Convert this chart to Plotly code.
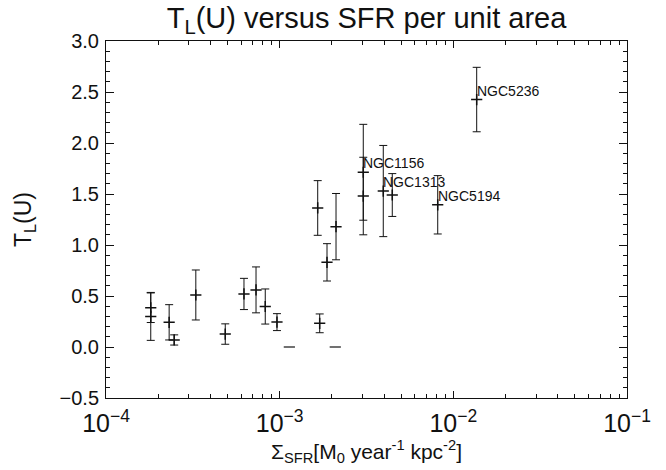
import math
import plotly.graph_objects as go

# Star-formation rate surface density [M0 / yr / kpc^2]
sfr = [1.81e-4, 1.81e-4, 2.31e-4, 2.47e-4, 3.29e-4, 4.86e-4, 6.23e-4,
       7.31e-4, 8.26e-4, 9.65e-4, 1.656e-3, 1.70e-3, 1.873e-3, 2.111e-3,
       3.03e-3, 3.03e-3, 3.95e-3, 4.45e-3, 8.13e-3, 1.363e-2]
# T_L(U) and its 1-sigma uncertainty
tl = [0.385, 0.30, 0.242, 0.069, 0.51, 0.127, 0.52,
      0.56, 0.397, 0.244, 1.363, 0.232, 0.83, 1.18,
      1.713, 1.48, 1.529, 1.49, 1.394, 2.426]
tl_err = [0.145, 0.235, 0.173, 0.05, 0.245, 0.10, 0.153,
          0.225, 0.172, 0.083, 0.268, 0.092, 0.183, 0.325,
          0.47, 0.38, 0.447, 0.21, 0.286, 0.316]

# Galaxies with no detected signal (T_L = 0)
sfr_zero = [1.137e-3, 2.09e-3]
tl_zero = [0.0, 0.0]

# Named galaxies
names = ["NGC1156", "NGC1313", "NGC5194", "NGC5236"]
name_sfr = [3.03e-3, 3.95e-3, 8.13e-3, 1.363e-2]
name_tl = [1.713, 1.529, 1.394, 2.426]

FONT = "Liberation Sans"
INK = "#111111"

fig = go.Figure()

fig.add_trace(go.Scatter(
    x=sfr, y=tl, mode="markers",
    marker=dict(symbol="cross-thin", size=8,
                line=dict(width=1.5, color=INK), color=INK),
    error_y=dict(type="data", array=tl_err, visible=True,
                 color=INK, thickness=1, width=4),
    showlegend=False,
))

fig.add_trace(go.Scatter(
    x=sfr_zero, y=tl_zero, mode="markers",
    marker=dict(symbol="line-ew", size=8,
                line=dict(width=1.2, color=INK), color=INK),
    showlegend=False,
))

for n, xs, ys in zip(names, name_sfr, name_tl):
    fig.add_annotation(
        x=math.log10(xs), y=ys, text=n, showarrow=False,
        xanchor="left", yanchor="middle", xshift=-2, yshift=9,
        font=dict(family=FONT, size=14, color=INK),
    )

fig.update_layout(
    width=666, height=470,
    margin=dict(l=106, r=39, t=41, b=72),
    paper_bgcolor="white", plot_bgcolor="white",
    font=dict(family=FONT, color=INK),
    title=dict(text="T<sub>L</sub>(U) versus SFR per unit area",
               x=0.5, xref="paper", y=1 - 18 / 470, yref="container",
               xanchor="center", yanchor="middle", automargin=False,
               font=dict(family=FONT, size=29, color=INK)),
)

fig.update_xaxes(
    type="log", range=[-4, -1], dtick=1, exponentformat="power",
    showexponent="all", ticks="inside", ticklen=7, tickwidth=1,
    tickcolor=INK, mirror="allticks", showline=True, linecolor=INK,
    linewidth=1, showgrid=False, zeroline=False, automargin=False,
    minor=dict(ticks="inside", ticklen=4, dtick="D1", tickcolor=INK,
               showgrid=False),
    ticklabelstandoff=4,
    tickfont=dict(family=FONT, size=20, color=INK),
    title=dict(text="Σ<sub>SFR</sub>[M<sub>0</sub> year<sup>-1</sup> kpc<sup>-2</sup>]",
               font=dict(family=FONT, size=21, color=INK), standoff=0),
)

fig.update_yaxes(
    range=[-0.5, 3.0], dtick=0.5, tickformat=".1f", ticks="inside",
    ticklen=8, tickwidth=1, tickcolor=INK, mirror="allticks",
    showline=True, linecolor=INK, linewidth=1, showgrid=False,
    zeroline=False, automargin=False,
    minor=dict(ticks="inside", ticklen=4, dtick=0.1, tickcolor=INK,
               showgrid=False),
    ticklabelstandoff=2,
    tickfont=dict(family=FONT, size=20, color=INK),
    title=dict(text="T<sub>L</sub>(U)",
               font=dict(family=FONT, size=23, color=INK), standoff=21),
)

fig.write_html("out.html")
